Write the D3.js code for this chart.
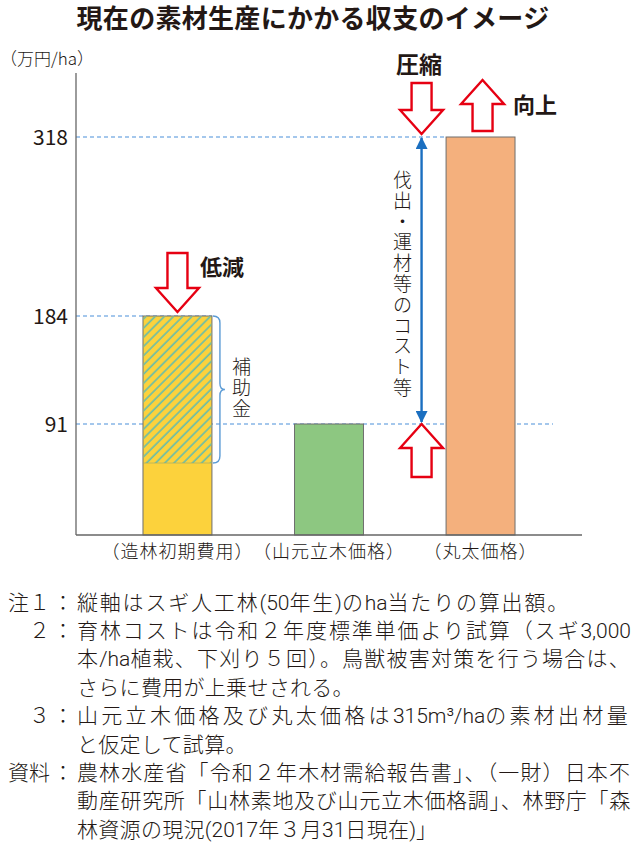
<!DOCTYPE html>
<html><head><meta charset="utf-8">
<script src="https://cdn.jsdelivr.net/npm/d3@7"></script>
<style>
html,body{margin:0;padding:0;background:#fff;}
svg{display:block;}
text{font-family:"Noto Sans CJK JP","Noto Sans",sans-serif;fill:#231815;}
.lt{font-weight:300;}
.lat{font-family:Roboto,"Liberation Sans",Arial,sans-serif;font-weight:300;}
</style></head><body>
<svg id="c" width="631" height="844"></svg>
<script>
const title = "現在の素材生産にかかる収支のイメージ";
const unitLabel = "（万円/ha）";
const categories = ["（造林初期費用）", "（山元立木価格）", "（丸太価格）"];
const values = [184, 91, 318];
const ownCost = 59; // 造林初期費用のうち補助金以外の部分（図から推定）
const tickValues = [91, 184, 318];
const tickLabels = ["91", "184", "318"];
const barColors = ["#FCD23C", "#8DC781", "#F4B07D"];
const arrowLabels = ["低減", "圧縮", "向上"];
const costLabel = "伐出・運材等のコスト等";
const subsidyLabel = "補助金";
const noteLabels = ["注１", "２", "", "", "３", "", "資料", "", ""];
const noteTexts = [
  "縦軸はスギ人工林(50年生)のha当たりの算出額。",
  "育林コストは令和２年度標準単価より試算（スギ3,000",
  "本/ha植栽、下刈り５回）。鳥獣被害対策を行う場合は、",
  "さらに費用が上乗せされる。",
  "山元立木価格及び丸太価格は315m³/haの素材出材量",
  "と仮定して試算。",
  "農林水産省「令和２年木材需給報告書」、（一財）日本不",
  "動産研究所「山林素地及び山元立木価格調」、林野庁「森",
  "林資源の現況(2017年３月31日現在)」"
];

const svg = d3.select("#c");
const RED = "#E60012", BLUE = "#1B6FC0", DASH = "#4A90D9", AX = "#666";

// scales (illustrative chart: piecewise-linear value axis)
const y = d3.scaleLinear().domain([0, 91, 184, 318]).range([535, 424, 316, 137]);
const x = d3.scaleBand().domain(categories).range([76, 582]).paddingInner(0.545).paddingOuter(0.442);
const bw = x.bandwidth();

// defs: hatch
const defs = svg.append("defs");
const pat = defs.append("pattern").attr("id", "hatch").attr("patternUnits", "userSpaceOnUse")
  .attr("width", 6.5).attr("height", 6.5).attr("patternTransform", "rotate(45)");
pat.append("line").attr("x1", 2).attr("y1", 0).attr("x2", 2).attr("y2", 6.5)
  .attr("stroke", "#6CBDA6").attr("stroke-width", 1.7);

// title
svg.append("text").attr("x", 313).attr("y", 28).attr("text-anchor", "middle")
  .attr("font-size", 26).attr("letter-spacing", 0.3).attr("font-weight", "bold").text(title);

// unit label
svg.append("text").attr("class", "lt").attr("x", 0).attr("y", 65).attr("font-size", 17).text(unitLabel);

// dashed guide lines (behind bars)
const dashEnd = {318: x(categories[2]), 184: x(categories[0]) + bw, 91: 553};
svg.append("g").selectAll("line").data(tickValues).join("line")
  .attr("x1", 76).attr("x2", d => dashEnd[d]).attr("y1", d => y(d)).attr("y2", d => y(d))
  .attr("stroke", DASH).attr("stroke-width", 1.1).attr("stroke-dasharray", "4,3");

// bars
svg.append("g").selectAll("rect").data(values).join("rect")
  .attr("x", (d, i) => x(categories[i])).attr("width", bw)
  .attr("y", d => y(d)).attr("height", d => y(0) - y(d))
  .attr("fill", (d, i) => barColors[i]).attr("stroke", "#6E6E6E").attr("stroke-width", 1);

// subsidy hatch
svg.append("rect").attr("x", x(categories[0]) + 0.5).attr("width", bw - 1)
  .attr("y", y(values[0]) + 0.5).attr("height", y(ownCost) - y(values[0]) - 0.5)
  .attr("fill", "url(#hatch)");
svg.append("line").attr("x1", x(categories[0])).attr("x2", x(categories[0]) + bw)
  .attr("y1", y(ownCost)).attr("y2", y(ownCost)).attr("stroke", "#9aa86a").attr("stroke-width", 0.6);

// axes
svg.append("line").attr("x1", 76).attr("x2", 76).attr("y1", 73).attr("y2", y(0))
  .attr("stroke", AX).attr("stroke-width", 1.3);
svg.append("line").attr("x1", 76).attr("x2", 582).attr("y1", y(0)).attr("y2", y(0))
  .attr("stroke", AX).attr("stroke-width", 1.3);

// tick labels
svg.append("g").selectAll("text").data(tickValues).join("text")
  .attr("x", 68).attr("y", d => y(d) + 7.5).attr("text-anchor", "end")
  .attr("font-family", "'Liberation Sans',Arial,sans-serif").attr("font-size", 21)
  .text((d, i) => tickLabels[i]);

// category labels
svg.append("g").selectAll("text").data(categories).join("text").attr("class", "lt")
  .attr("x", d => x(d) + bw / 2).attr("y", 558).attr("text-anchor", "middle")
  .attr("font-size", 18).attr("letter-spacing", 1).text(d => d);

// hollow arrows
function arrow(cx, tipY, dir, len) {
  const hl = 24, hw = 21.5, sw = 10;
  const b = tipY - dir * len, h = tipY - dir * hl;
  const pts = [[cx - sw, b], [cx + sw, b], [cx + sw, h], [cx + hw, h], [cx, tipY], [cx - hw, h], [cx - sw, h]];
  svg.append("path").attr("d", "M" + pts.map(p => p.join(",")).join("L") + "Z")
    .attr("fill", "#fff").attr("stroke", RED).attr("stroke-width", 2.4).attr("stroke-linejoin", "miter");
}
const c0 = x(categories[0]) + bw / 2, c2 = x(categories[2]) + bw / 2;
const costX = x(categories[2]) - 24.5;
arrow(c0, y(values[0]) - 4, 1, 59);
arrow(costX, y(values[2]) - 3, 1, 51);
arrow(c2 + 2, y(values[2]) - 57, -1, 51);
arrow(costX, y(values[1]), -1, 53);

svg.append("text").attr("x", 200).attr("y", 275).attr("font-size", 22).attr("font-weight", "bold").text(arrowLabels[0]);
svg.append("text").attr("x", 396).attr("y", 73).attr("font-size", 23).attr("font-weight", "bold").text(arrowLabels[1]);
svg.append("text").attr("x", 513).attr("y", 113).attr("font-size", 22).attr("font-weight", "bold").text(arrowLabels[2]);

// blue double arrow
defs.append("marker").attr("id", "ah").attr("viewBox", "0 0 12 12").attr("refX", 11).attr("refY", 6)
  .attr("markerWidth", 12).attr("markerHeight", 12).attr("markerUnits", "userSpaceOnUse").attr("orient", "auto-start-reverse")
  .append("path").attr("d", "M0,0L12,6L0,12Z").attr("fill", BLUE);
svg.append("line").attr("x1", costX).attr("x2", costX).attr("y1", y(values[2]) + 1).attr("y2", y(values[1]) - 2)
  .attr("stroke", BLUE).attr("stroke-width", 2.4)
  .attr("marker-start", "url(#ah)").attr("marker-end", "url(#ah)");

// vertical cost text
svg.append("g").selectAll("text").data(Array.from(costLabel)).join("text").attr("class", "lt")
  .attr("x", costX - 19).attr("y", (d, i) => 180 + i * 20.8 + 7).attr("text-anchor", "middle")
  .attr("font-size", 19).text(d => d);

// brace + subsidy label
const bt = y(values[0]), bb = y(ownCost), bm = (bt + bb) / 2, bx = x(categories[0]) + bw + 1;
svg.append("path").attr("d",
  `M${bx},${bt} Q${bx + 7},${bt} ${bx + 7},${bt + 7} L${bx + 7},${bm - 6} Q${bx + 7},${bm} ${bx + 12},${bm}` +
  ` Q${bx + 7},${bm} ${bx + 7},${bm + 6} L${bx + 7},${bb - 7} Q${bx + 7},${bb} ${bx},${bb}`)
  .attr("fill", "none").attr("stroke", "#5B9BD5").attr("stroke-width", 1.4);
svg.append("g").selectAll("text").data(Array.from(subsidyLabel)).join("text").attr("class", "lt")
  .attr("x", 241.5).attr("y", (d, i) => 367 + i * 21 + 7).attr("text-anchor", "middle")
  .attr("font-size", 19).text(d => d);

// notes: extra tracking goes only on CJK characters, Latin runs keep natural spacing
const targets = {0: 493, 1: 554, 2: 554, 4: 554, 6: 554, 7: 554};
const notes = svg.append("g").attr("class", "lt").attr("font-size", 21);
noteTexts.forEach((t, i) => {
  const yy = 602 + i * 28.4 + 7.5;
  if (noteLabels[i]) {
    notes.append("text").attr("x", 50).attr("y", yy).attr("text-anchor", "end").text(noteLabels[i]);
    notes.append("text").attr("x", 63).attr("y", yy).attr("text-anchor", "middle").text("：");
  }
  const tx = notes.append("text").attr("x", 77).attr("y", yy);
  const parts = t.match(/[\x20-\x7E³]+|[^\x20-\x7E³]+/g);
  let nCjk = 0;
  const spans = parts.map(p => {
    const latin = /^[\x20-\x7E³]/.test(p);
    if (!latin) nCjk += Array.from(p).length;
    const el = tx.append("tspan").text(p);
    if (latin) el.attr("class", "lat");
    return {latin, el};
  });
  let s = 0.3;
  if (targets[i] !== undefined) {
    const w0 = tx.node().getComputedTextLength();
    s = (targets[i] - w0) / nCjk;
  }
  spans.forEach(sp => { if (!sp.latin) sp.el.attr("letter-spacing", s); });
});
</script>
</body></html>
